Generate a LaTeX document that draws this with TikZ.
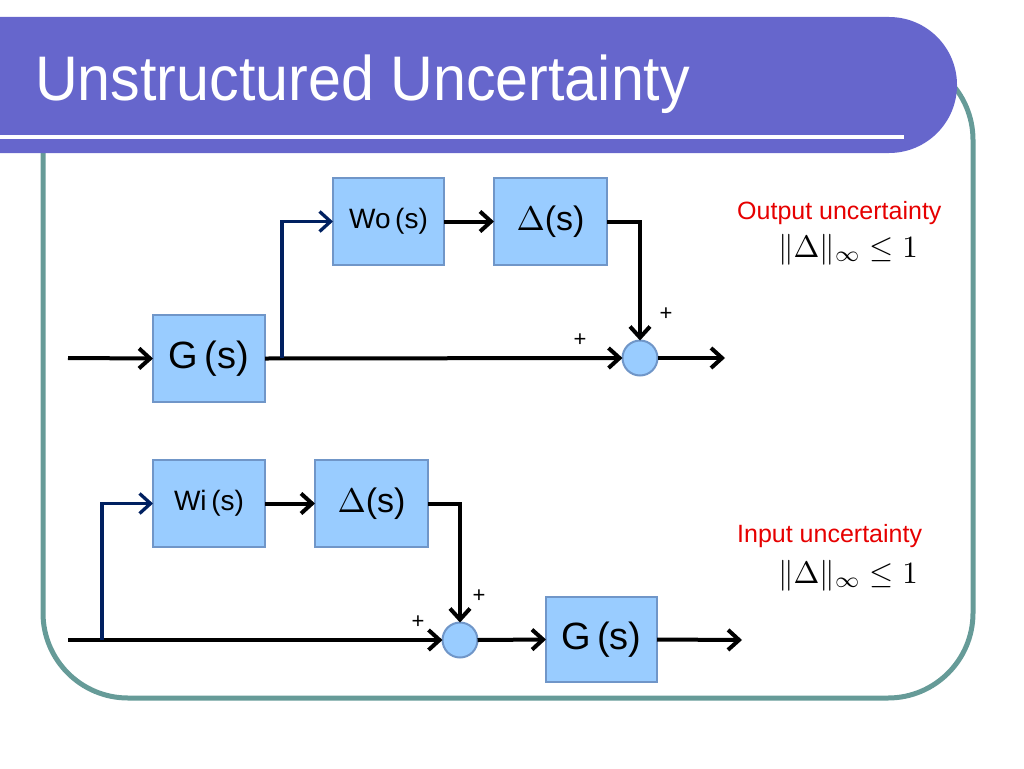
\documentclass[tikz,border=0pt]{standalone}
\usepackage{fontspec}
\usepackage{graphicx}
\setmainfont{Liberation Sans}
\usetikzlibrary{arrows.meta}
\definecolor{bannerc}{RGB}{102,102,204}
\definecolor{framec}{RGB}{102,155,152}
\definecolor{boxfill}{RGB}{153,204,255}
\definecolor{boxline}{RGB}{112,150,200}
\definecolor{navyc}{RGB}{0,32,96}
\definecolor{redc}{RGB}{230,0,0}
\newcommand{\bigmath}[2]{{\fontsize{10}{10}\selectfont\scalebox{#1}{$#2$}}}
\tikzset{
  blk/.style={draw=boxline, fill=boxfill, line width=2pt, inner sep=0pt, outer sep=0pt,
              minimum width=112pt, minimum height=87pt, text=black},
  sumc/.style={circle, draw=boxline, fill=boxfill, line width=2pt, inner sep=0pt, outer sep=0pt,
               minimum size=35pt},
  arr/.style={draw=black, line width=4pt, -{Straight Barb[length=11pt,width=20pt]}},
  navyarr/.style={draw=navyc, line width=3.3pt, -{Straight Barb[length=11pt,width=20pt]}},
  plus/.style={inner sep=0pt, font=\fontsize{22}{22}\selectfont},
  redlbl/.style={anchor=base west, inner sep=0pt, text=redc, font=\fontsize{25}{25}\selectfont},
  mathlbl/.style={anchor=base, inner sep=0pt}
}
\begin{document}
\begin{tikzpicture}[x=1pt,y=-1pt]
\useasboundingbox (0,0) rectangle (1024,768);
% frame
\draw[framec, line width=5pt, rounded corners=85pt] (43,55) rectangle (973,698);
% banner
\fill[bannerc] (-5,17) -- (889,17) arc(-90:90:68) -- (-5,153) -- cycle;
\draw[white, line width=3.5pt] (-5,137) -- (904,137);
\node[anchor=base west, inner sep=0pt, text=white] (title) at (35,100)
  {\fontsize{63}{63}\selectfont\scalebox{0.94}[1]{Unstructured Uncertainty}};

% top diagram
\node[blk] (G1) at (209,358.5) {\fontsize{38}{38}\selectfont G\,(s)};
\node[blk, minimum width=111pt] (Wo) at (388.5,221.5) {\fontsize{28}{28}\selectfont Wo\,(s)};
\node[blk, minimum width=113pt] (D1) at (550.5,221.5) {\fontsize{34}{34}\selectfont\bigmath{3.4}{\Delta}(s)};
\node[sumc] (S1) at (640,358) {};
\coordinate (in1) at (68,358);
\coordinate (b1) at (282,358);
\coordinate (out1) at (725,358);
\draw[arr] (in1) -- (G1.west);
\draw[arr] (G1.east) -- (S1.west);
\draw[navyarr] (b1) |- (Wo.west);
\draw[arr] (Wo.east) -- (D1.west);
\draw[arr] (D1.east) -| (S1.north);
\draw[arr] (S1.east) -- (out1);
\node[plus] (p1) at (580,340) {+};
\node[plus] (p2) at (666,314) {+};

% bottom diagram
\node[blk] (Wi) at (209,503.5) {\fontsize{28}{28}\selectfont Wi\,(s)};
\node[blk, minimum width=113pt] (D2) at (371.5,503.5) {\fontsize{34}{34}\selectfont\bigmath{3.4}{\Delta}(s)};
\node[sumc] (S2) at (460,640) {};
\node[blk, minimum width=111pt, minimum height=85pt] (G2) at (601.5,639.5) {\fontsize{38}{38}\selectfont G\,(s)};
\coordinate (in2) at (68,640);
\coordinate (b2) at (102,640);
\coordinate (out2) at (742,640);
\draw[arr] (in2) -- (S2.west);
\draw[navyarr] (b2) |- (Wi.west);
\draw[arr] (Wi.east) -- (D2.west);
\draw[arr] (D2.east) -| (S2.north);
\draw[arr] (S2.east) -- (G2.west);
\draw[arr] (G2.east) -- (out2);
\node[plus] (p3) at (418,622) {+};
\node[plus] (p4) at (479,596) {+};

% labels
\node[redlbl] (ol) at (737,219) {Output uncertainty};
\node[mathlbl] (om) at (848,257) {\bigmath{3.1}{\|\Delta\|_\infty \le 1}};
\node[redlbl] (il) at (737,542) {Input uncertainty};
\node[mathlbl] (im) at (848,583) {\bigmath{3.1}{\|\Delta\|_\infty \le 1}};
\end{tikzpicture}
\end{document}
